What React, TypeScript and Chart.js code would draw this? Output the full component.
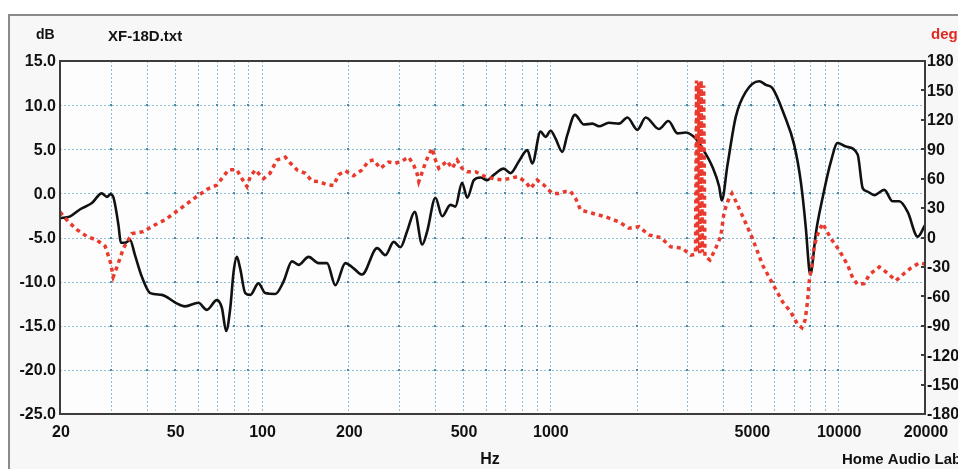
import React, { useEffect, useRef } from 'react';
import { Chart, registerables } from 'chart.js';
Chart.register(...registerables);

// Magnitude (black, left axis, dB)
const magFreq = [20, 21.7, 23.5, 25.8, 27.9, 29.1, 29.9, 30.6, 31.9, 32.5, 33.6, 35.0, 36.4, 38.4, 41.1, 45.1, 50.4, 54.3, 60.4, 64.6, 70, 72.9, 75.4, 77.9, 80, 82.1, 84.3, 87.8, 91.4, 97.6, 103, 111.6, 119.2, 127.5, 134.4, 145.6, 157.7, 168.7, 180.3, 195.3, 208.6, 223.2, 251.7, 268.9, 287.4, 303.2, 319.8, 339.9, 360.7, 375.4, 401, 423, 452, 470, 496, 517, 545, 575, 606, 639, 692, 730, 780, 835, 869, 928, 966, 1006, 1047, 1104, 1149, 1221, 1312, 1404, 1479, 1603, 1736, 1857, 2011, 2150, 2390, 2578, 2770, 2960, 3206, 3382, 3663, 3862, 3946, 4130, 4415, 4780, 5318, 5610, 5920, 6496, 7036, 7420, 7726, 7932, 8020, 8104, 8368, 8828, 9432, 9952, 10636, 11680, 12158, 12648, 13336, 14446, 15444, 16284, 17418, 18868, 20000];
const magDb = [-2.8, -2.6, -1.8, -1.1, 0.0, -0.4, -0.1, -0.4, -3.6, -5.6, -5.6, -5.3, -7.0, -9.4, -11.3, -11.5, -12.4, -12.8, -12.4, -13.2, -12.1, -13.0, -15.6, -13.0, -8.9, -7.2, -8.5, -11.3, -11.5, -10.2, -11.3, -11.4, -10.0, -7.7, -8.1, -7.2, -7.9, -7.9, -10.4, -7.9, -8.5, -9.2, -6.2, -7.0, -5.5, -6.1, -4.3, -2.1, -5.8, -4.3, -0.5, -2.6, -1.3, -1.5, 1.2, -0.5, 1.5, 1.8, 1.5, 2.1, 2.8, 2.3, 3.6, 4.9, 3.4, 7.0, 6.4, 7.1, 6.2, 4.7, 6.6, 8.9, 7.8, 7.9, 7.6, 8.0, 7.9, 8.6, 7.2, 8.6, 7.3, 8.2, 6.8, 6.9, 6.2, 5.1, 3.0, 0.8, -0.8, 3.2, 8.7, 11.5, 12.7, 12.3, 11.9, 8.9, 5.5, 1.3, -4.0, -8.6, -9.2, -8.5, -4.5, -0.5, 3.6, 5.7, 5.3, 4.4, 0.6, 0.2, -0.2, 0.4, -0.9, -0.9, -2.1, -4.9, -3.6];

// Phase (red dotted, right axis, degrees)
const phaseFreq = [20, 21.4, 22.9, 24.8, 26.8, 28.7, 29.9, 30.6, 31.7, 33.2, 35.5, 38.9, 42.8, 46.3, 50.4, 54.3, 60.4, 65.5, 70, 76.8, 82.1, 85.5, 89, 91.4, 95.1, 101.6, 107, 113, 120.9, 125.8, 132.7, 141.8, 149.6, 157.7, 168.7, 177.8, 185, 195.3, 208.6, 223.2, 235, 245, 258, 276, 291, 307, 324, 337, 346, 351, 361, 370, 380, 391, 401, 412, 440, 458, 477, 496, 517, 552, 598, 639, 684, 771, 823, 857, 904, 953, 1019, 1075, 1134, 1180, 1228, 1278, 1404, 1561, 1736, 1881, 2037, 2206, 2422, 2624, 2882, 3080, 3200, 3225, 3250, 3280, 3310, 3345, 3380, 3415, 3450, 3520, 3590, 3760, 3915, 4020, 4180, 4280, 4415, 4780, 5044, 5464, 5920, 6412, 6848, 7228, 7482, 7682, 7830, 7932, 8104, 8254, 8482, 8828, 9432, 10080, 10780, 11220, 11680, 12312, 12814, 13882, 14842, 15862, 16734, 17884, 19108, 20000];
const phaseDeg = [26, 16, 8, 1, -2.5, -9, -25, -40, -28, -11, 4, 6, 13, 18, 26, 33, 43, 50, 53.5, 69, 69, 60, 52, 62, 69, 60, 65.5, 79, 82, 76, 69, 65.5, 57.6, 57, 54, 53, 64, 68, 63, 69, 78, 79, 70.5, 77, 75.7, 78, 82, 74, 65.5, 57, 67, 76, 84, 91, 79, 70.5, 78, 70.5, 79, 70.5, 67, 67, 62, 60, 58.6, 62, 57, 50, 58.6, 53.5, 45, 45, 47, 47, 40, 28, 24.7, 21, 16, 9.4, 11, 2.6, 0, -9.4, -11, -18, -17, 160, -15, 158, -16, 160, -15, 155, -20, -21, -23, -11, 1, 26, 40, 45, 37, 14.5, -1, -28, -47, -65.5, -76, -88.5, -92, -84, -65, -45, -28, -9, 3, 14.5, -1, -13, -28, -41, -48, -47, -38, -30, -36.5, -44, -38, -31, -26, -27];

const dbTicks = [15, 10, 5, 0, -5, -10, -15, -20, -25];
const degTicks = [180, 150, 120, 90, 60, 30, 0, -30, -60, -90, -120, -150, -180];
const gridFreqs = [30, 40, 50, 60, 70, 80, 90, 100, 200, 300, 400, 500, 600, 700, 800, 900, 1000, 2000, 3000, 4000, 5000, 6000, 7000, 8000, 9000, 10000];
const freqLabels = [20, 50, 100, 200, 500, 1000, 5000, 10000, 20000];

const FONT = '"Liberation Sans", Arial, sans-serif';

export default function App() {
  const ref = useRef<HTMLCanvasElement>(null);

  useEffect(() => {
    if (!ref.current) return;

    const decor = {
      id: 'decor',
      beforeDraw(chart: any) {
        const { ctx, chartArea: a, scales } = chart;
        const xs = scales.x, ys = scales.y;
        ctx.save();
        ctx.fillStyle = '#ffffff';
        ctx.fillRect(0, 0, 958, 469);
        ctx.fillStyle = '#f7f7f7';
        ctx.fillRect(8, 14, 950, 455);
        ctx.strokeStyle = '#8a8a8a';
        ctx.lineWidth = 2;
        ctx.beginPath();
        ctx.moveTo(9, 469);
        ctx.lineTo(9, 15);
        ctx.lineTo(958, 15);
        ctx.stroke();
        ctx.fillStyle = '#fdfdfd';
        ctx.fillRect(a.left, a.top, a.right - a.left, a.bottom - a.top);

        // grid
        ctx.strokeStyle = '#8fc0da';
        ctx.lineWidth = 1;
        ctx.setLineDash([2, 2]);
        for (const f of gridFreqs) {
          const x = Math.round(xs.getPixelForValue(f)) + 0.5;
          ctx.beginPath();
          ctx.moveTo(x, a.top);
          ctx.lineTo(x, a.bottom);
          ctx.stroke();
        }
        for (const v of dbTicks) {
          const y = Math.round(ys.getPixelForValue(v)) + 0.5;
          if (y <= a.top + 1 || y >= a.bottom - 1) continue;
          ctx.beginPath();
          ctx.moveTo(a.left, y);
          ctx.lineTo(a.right, y);
          ctx.stroke();
        }
        ctx.setLineDash([]);
        ctx.fillStyle = '#4f8aa6';
        for (const f of gridFreqs) {
          const x = Math.round(xs.getPixelForValue(f));
          for (const v of dbTicks) {
            const y = Math.round(ys.getPixelForValue(v));
            if (y <= a.top + 1 || y >= a.bottom - 1) continue;
            ctx.fillRect(x - 1, y - 1, 2, 2);
          }
        }
        ctx.restore();
      },
      afterDraw(chart: any) {
        const { ctx, chartArea: a, scales } = chart;
        const xs = scales.x, ys = scales.y, y2 = scales.y2;
        ctx.save();
        // frame
        ctx.strokeStyle = '#3c3c3c';
        ctx.lineWidth = 2;
        ctx.strokeRect(a.left, a.top, a.right - a.left, a.bottom - a.top);
        // right ticks
        ctx.lineWidth = 2;
        for (const d of degTicks) {
          const y = Math.round(y2.getPixelForValue(d));
          ctx.beginPath();
          ctx.moveTo(a.right - 4, y);
          ctx.lineTo(a.right, y);
          ctx.stroke();
        }
        // labels
        ctx.fillStyle = '#111';
        ctx.font = `bold 16px ${FONT}`;
        ctx.textBaseline = 'middle';
        ctx.textAlign = 'right';
        for (const v of dbTicks) {
          ctx.fillText(v.toFixed(1), 56, ys.getPixelForValue(v) + 1);
        }
        ctx.textAlign = 'left';
        for (const d of degTicks) {
          ctx.fillText(String(d), 927, y2.getPixelForValue(d) + 1);
        }
        ctx.textAlign = 'center';
        for (const f of freqLabels) {
          ctx.fillText(String(f), xs.getPixelForValue(f) + 1, 433);
        }
        ctx.fillText('Hz', 490, 460);
        ctx.textAlign = 'left';
        ctx.font = `bold 15px ${FONT}`;
        ctx.fillText('Home Audio Lab', 842, 460);
        ctx.fillText('XF-18D.txt', 108, 37);
        ctx.font = `bold 14px ${FONT}`;
        ctx.fillText('dB', 36, 35);
        ctx.fillStyle = '#e02a22';
        ctx.font = `bold 15px ${FONT}`;
        ctx.fillText('deg', 931, 35);
        ctx.restore();
      },
    };

    const chart = new Chart(ref.current, {
      type: 'line',
      data: {
        datasets: [
          {
            label: 'Phase',
            data: phaseFreq.map((f, i) => ({ x: f, y: phaseDeg[i] })),
            yAxisID: 'y2',
            borderColor: '#ea3a2e',
            borderWidth: 3.5,
            borderDash: [4, 4],
            borderCapStyle: 'butt',
            pointRadius: 0,
            tension: 0,
            order: 0,
          },
          {
            label: 'Magnitude',
            data: magFreq.map((f, i) => ({ x: f, y: magDb[i] })),
            yAxisID: 'y',
            borderColor: '#111111',
            borderWidth: 2.6,
            pointRadius: 0,
            cubicInterpolationMode: 'monotone',
            order: 1,
          },
        ],
      },
      options: {
        responsive: false,
        animation: false,
        devicePixelRatio: 1,
        layout: { padding: { left: 60, right: 33, top: 61, bottom: 55 } },
        plugins: { legend: { display: false }, tooltip: { enabled: false } },
        scales: {
          x: { type: 'logarithmic', min: 20, max: 20000, display: false },
          y: { type: 'linear', min: -25, max: 15, display: false },
          y2: { type: 'linear', min: -180, max: 180, display: false, position: 'right' },
        },
      },
      plugins: [decor],
    } as any);

    return () => chart.destroy();
  }, []);

  return (
    <canvas
      ref={ref}
      width={958}
      height={469}
      style={{ position: 'fixed', left: 0, top: 0, width: 958, height: 469, display: 'block' }}
    />
  );
}
